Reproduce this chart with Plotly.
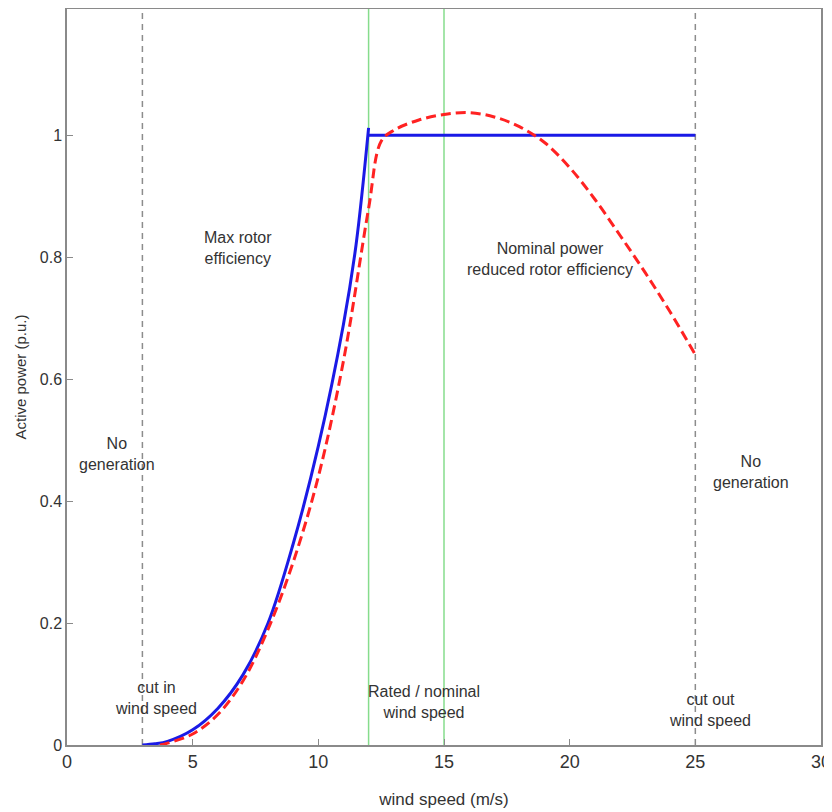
import plotly.graph_objects as go

# Data
blue_rise_x = [3, 3.5, 4, 5, 6, 7, 8, 9, 10, 11, 11.5, 12]
blue_rise_y = [0, 0.002, 0.006, 0.025, 0.06, 0.115, 0.2, 0.33, 0.49, 0.69, 0.82, 1.012]
blue_flat_x = [12, 25]
blue_flat_y = [1.0, 1.0]

red_x = [3.7, 4, 5, 6, 7, 8, 9, 10, 11, 12, 12.5, 13, 14, 15, 16, 17, 18, 19, 20, 21, 22, 23, 24, 25]
red_y = [0, 0.003, 0.018, 0.05, 0.105, 0.19, 0.3, 0.44, 0.63, 0.88, 0.99, 1.008, 1.025, 1.034, 1.037,
         1.03, 1.014, 0.988, 0.947, 0.895, 0.836, 0.775, 0.71, 0.64]

cut_lines = [3, 25]
rated_lines = [12, 15]

x_ticks = [0, 5, 10, 15, 20, 25, 30]
y_ticks = [0, 0.2, 0.4, 0.6, 0.8, 1]
y_tick_labels = ["0", "0.2", "0.4", "0.6", "0.8", "1"]

labels = [
    (2.0, 0.478, "No<br>generation"),
    (6.8, 0.815, "Max rotor<br>efficiency"),
    (19.2, 0.797, "Nominal power<br>reduced rotor efficiency"),
    (27.2, 0.448, "No<br>generation"),
    (3.55, 0.077, "cut in<br>wind speed"),
    (14.2, 0.070, "Rated / nominal<br>wind speed"),
    (25.6, 0.058, "cut out<br>wind speed"),
]

YMAX = 1.207

fig = go.Figure()

for xv in cut_lines:
    fig.add_trace(go.Scatter(x=[xv, xv], y=[0, YMAX], mode="lines",
                             line=dict(color="#8c8c8c", width=1.5, dash="6px,5px"),
                             showlegend=False, hoverinfo="skip"))
for xv in rated_lines:
    fig.add_trace(go.Scatter(x=[xv, xv], y=[0, YMAX], mode="lines",
                             line=dict(color="#86dc8c", width=1.5),
                             showlegend=False, hoverinfo="skip"))

fig.add_trace(go.Scatter(x=blue_rise_x, y=blue_rise_y, mode="lines", line_shape="spline",
                         line=dict(color="#1a1ae6", width=3), showlegend=False))
fig.add_trace(go.Scatter(x=blue_flat_x, y=blue_flat_y, mode="lines",
                         line=dict(color="#1a1ae6", width=3), showlegend=False))
fig.add_trace(go.Scatter(x=red_x, y=red_y, mode="lines", line_shape="spline",
                         line=dict(color="#ff2222", width=3, dash="10px,5px"), showlegend=False))

for x, y, t in labels:
    fig.add_annotation(x=x, y=y, text=t, showarrow=False, xref="x", yref="y",
                       font=dict(family="Liberation Sans, Arial, sans-serif", size=16, color="#333333"),
                       align="center", bgcolor="rgba(255,255,255,0)")

# page body has an 8px margin, so the figure is sized/offset to compensate
fig.update_layout(
    width=824, height=804,
    margin=dict(l=59, r=11, t=1, b=67),
    paper_bgcolor="white", plot_bgcolor="white",
    xaxis=dict(range=[0, 30], tickvals=x_ticks, showgrid=False, zeroline=False, automargin=False,
               showline=True, mirror=True, linecolor="#8a8a8a", linewidth=1.5,
               ticks="inside", ticklen=6, tickcolor="#8a8a8a",
               tickfont=dict(family="Liberation Sans Narrow, Arial Narrow, sans-serif", size=18, color="#333333"),
               title=dict(text="wind speed (m/s)", standoff=22,
                          font=dict(family="Liberation Sans Narrow, Arial Narrow, sans-serif", size=17, color="#333333"))),
    yaxis=dict(range=[0, YMAX], tickvals=y_ticks, ticktext=y_tick_labels, showgrid=False, zeroline=False,
               automargin=False,
               showline=True, mirror=True, linecolor="#8a8a8a", linewidth=1.5,
               ticks="inside", ticklen=6, tickcolor="#8a8a8a",
               tickfont=dict(family="Liberation Sans, Arial, sans-serif", size=16, color="#333333"),
               title=dict(text="Active power (p.u.)", standoff=10,
                          font=dict(family="Liberation Sans, Arial, sans-serif", size=15, color="#333333"))),
)

fig.write_html("out.html")
